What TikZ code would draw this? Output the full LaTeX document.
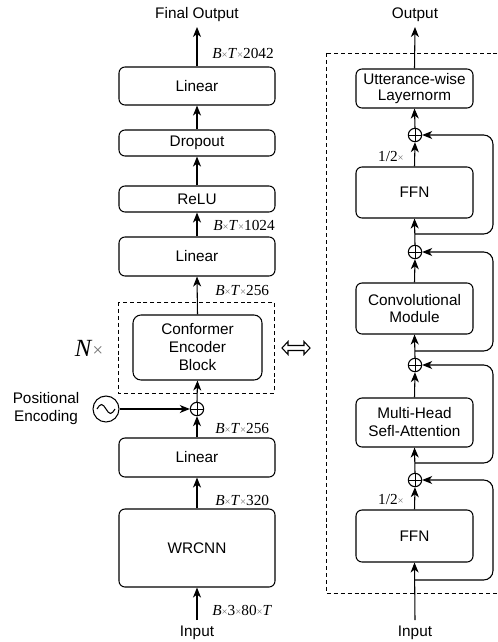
\documentclass[tikz,border=0pt]{standalone}
\usepackage{fontspec}
\setmainfont{Liberation Sans}
\newfontfamily\timesf{Liberation Serif}
\usetikzlibrary{arrows.meta}
\newcommand{\smx}{{\color{black!55}\fontsize{8}{8}\selectfont ×}}
\begin{document}
\begin{tikzpicture}[x=0.75pt,y=-0.75pt,
  font=\fontsize{11.5}{13.5}\selectfont,
  box/.style={draw,line width=0.8pt,rounded corners=4.5pt,align=center,inner sep=0pt},
  arr/.style={-{Stealth[length=7.5pt,width=6pt,inset=2.2pt]},line width=0.8pt},
  ln/.style={line width=0.8pt},
  loop/.style={-{Stealth[length=7.5pt,width=6pt,inset=2.2pt]},line width=0.8pt,rounded corners=7pt},
  dashbox/.style={draw,line width=0.65pt,dash pattern=on 3pt off 2.2pt},
  plus/.style={draw,circle,line width=0.8pt,minimum size=10pt,inner sep=0pt,
    path picture={\draw[line width=0.6pt] (path picture bounding box.north) -- (path picture bounding box.south)
      (path picture bounding box.west) -- (path picture bounding box.east);}},
  dimlab/.style={anchor=west,inner sep=0pt,font=\timesf\fontsize{11.5}{12}\selectfont},
  halflab/.style={anchor=east,inner sep=0pt,font=\timesf\fontsize{11.5}{12}\selectfont},
  txt/.style={inner sep=0pt,align=center},
]
\clip (0,0) rectangle (497,642);
\fill[white] (0,0) rectangle (497,642);

% ---------------- left column ----------------
\node[txt] (fout) at (197,15) {Final Output};
\coordinate (foutc) at (197,27);
\node[box,minimum width=117pt,minimum height=28.5pt] (lin1) at (197,86) {Linear};
\node[box,minimum width=117pt,minimum height=19.5pt] (drop) at (197,143) {Dropout};
\node[box,minimum width=117pt,minimum height=19.5pt] (relu) at (197,199) {ReLU};
\node[box,minimum width=117pt,minimum height=29.25pt] (lin2) at (197,256.5) {Linear};
\draw[dashbox] (118,302) rectangle (274,393);
\node[box,rounded corners=6pt,minimum width=96.75pt,minimum height=48.75pt] (conf) at (197.5,347.5) {Conformer\\Encoder\\Block};
\node[plus] (plusL) at (197,409) {};
\node[draw,circle,line width=0.8pt,minimum size=19.5pt,inner sep=0pt] (sine) at (106,409) {};
\draw[ln] (97,409) sin (101.5,404.5) cos (106,409) sin (110.5,413.5) cos (115,409);
\node[txt] (pe) at (46,409) {Positional\\Encoding};
\node[box,minimum width=117pt,minimum height=29.25pt] (lin3) at (197,457.5) {Linear};
\node[box,minimum width=117pt,minimum height=58.5pt] (wrcnn) at (197,548) {WRCNN};
\node[txt] (inL) at (197,633) {Input};
\coordinate (inLc) at (197,620);

\node[inner sep=0pt] (nx) at (89,348) {\timesf\fontsize{18.5}{18}\selectfont\textit{N}{\color{black!55}\fontsize{14}{14}\selectfont ×}};

\draw[arr] (lin1.north) -- (foutc);
\draw[arr] (drop.north) -- (lin1.south);
\draw[arr] (relu.north) -- (drop.south);
\draw[arr] (lin2.north) -- (relu.south);
\draw[arr] (conf.north) -- (lin2.south);
\draw[arr] (plusL.north) -- (conf.south);
\draw[arr] (lin3.north) -- (plusL.south);
\draw[arr] (wrcnn.north) -- (lin3.south);
\draw[arr] (inLc) -- (wrcnn.south);
\draw[arr] (sine.east) -- (plusL.west);

\node[dimlab] (d1) at (212,53) {\textit{B}\smx\textit{T}\smx 2042};
\node[dimlab] (d2) at (213,225) {\textit{B}\smx\textit{T}\smx 1024};
\node[dimlab] (d3) at (215,290) {\textit{B}\smx\textit{T}\smx 256};
\node[dimlab] (d4) at (215,428) {\textit{B}\smx\textit{T}\smx 256};
\node[dimlab] (d5) at (215,500) {\textit{B}\smx\textit{T}\smx 320};
\node[dimlab] (d6) at (212,610) {\textit{B}\smx 3\smx 80\smx\textit{T}};

% double arrow
\draw[ln,fill=white,line join=miter] (282,348) -- (288,341.5) -- (288,345.5) -- (304,345.5) -- (304,341.5) -- (310,348)
  -- (304,354.5) -- (304,350.5) -- (288,350.5) -- (288,354.5) -- cycle;

% ---------------- right column ----------------
\draw[dashbox] (326,53) rectangle (520,593);
\node[txt] (outR) at (415,15) {Output};
\coordinate (outRc) at (415,27);
\node[box,minimum width=87.75pt,minimum height=29.25pt,font=\fontsize{11.5}{12}\selectfont] (utt) at (414.5,88.5) {Utterance-wise\\Layernorm};
\node[plus] (p1) at (415,135) {};
\node[box,minimum width=87.75pt,minimum height=38.25pt] (ffn1) at (414.5,192.5) {FFN};
\node[plus] (p2) at (415,252) {};
\node[box,minimum width=87.75pt,minimum height=38.25pt,font=\fontsize{11.5}{12.75}\selectfont] (conv) at (414.5,308.5) {Convolutional\\Module};
\node[plus] (p3) at (415,365) {};
\node[box,minimum width=87.75pt,minimum height=36.75pt,font=\fontsize{11.5}{13.5}\selectfont] (mhsa) at (414.5,422.5) {Multi-Head\\Sefl-Attention};
\node[plus] (p4) at (415,480) {};
\node[box,minimum width=87.75pt,minimum height=39pt] (ffn2) at (414.5,536) {FFN};
\node[txt] (inR) at (415,633) {Input};
\coordinate (inRc) at (415,620);

\coordinate (b1) at (415,234);
\coordinate (b2) at (415,351);
\coordinate (b3) at (415,463);
\coordinate (b4) at (415,580);

\draw[arr] (utt.north) -- (outRc);
\draw[arr] (p1.north) -- (utt.south);
\draw[arr] (ffn1.north) -- (p1.south);
\draw[arr] (p2.north) -- (ffn1.south);
\draw[arr] (conv.north) -- (p2.south);
\draw[arr] (p3.north) -- (conv.south);
\draw[arr] (mhsa.north) -- (p3.south);
\draw[arr] (p4.north) -- (mhsa.south);
\draw[arr] (ffn2.north) -- (p4.south);
\draw[arr] (inRc) -- (ffn2.south);

\draw[loop] (b1) -- (493,234) -- (493,135) -- (p1.east);
\draw[loop] (b2) -- (493,351) -- (493,252) -- (p2.east);
\draw[loop] (b3) -- (493,463) -- (493,365) -- (p3.east);
\draw[loop] (b4) -- (493,580) -- (493,480) -- (p4.east);

\node[halflab] (h1) at (404,156) {1/2\smx};
\node[halflab] (h2) at (404,499) {1/2\smx};
\end{tikzpicture}
\end{document}
